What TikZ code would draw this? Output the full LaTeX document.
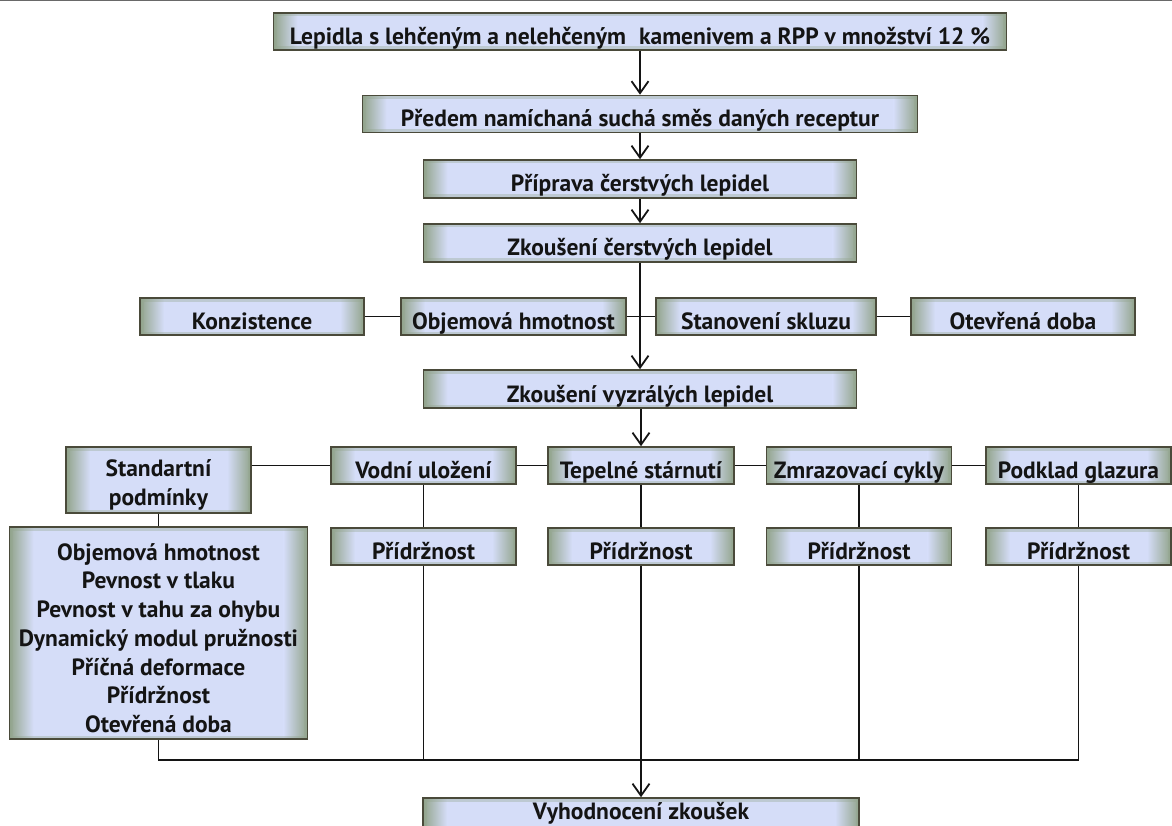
\documentclass[tikz,border=0pt]{standalone}
\usepackage{fontspec}
\setmainfont{PT Sans}
\usetikzlibrary{arrows.meta}
\definecolor{boxblue}{RGB}{213,221,248}
\definecolor{edgegreen}{RGB}{146,164,140}
\definecolor{boxline}{RGB}{74,74,58}
\definecolor{ink}{RGB}{20,20,20}
\definecolor{rule}{RGB}{105,105,105}
\tikzset{
  fbox/.style={draw=boxline, line width=1.6pt, inner sep=0pt, text=ink,
    font=\bfseries\fontsize{23.5}{28}\selectfont,
    text height=27.5pt, text depth=1.5pt,
    path picture={
      \fill[boxblue] (path picture bounding box.south west) rectangle (path picture bounding box.north east);
      \shade[left color=edgegreen, right color=boxblue]
        (path picture bounding box.south west) rectangle ([xshift=24pt]path picture bounding box.north west);
      \shade[left color=boxblue, right color=edgegreen]
        ([xshift=-24pt]path picture bounding box.south east) rectangle (path picture bounding box.north east);
      \draw[edgegreen, line width=7pt, opacity=0.35]
        (path picture bounding box.south west) rectangle (path picture bounding box.north east);
    }},
  txt/.style={text=ink, font=\bfseries\fontsize{23.5}{28.7}\selectfont, align=center, inner sep=0pt},
  conn/.style={draw=ink, line width=1.8pt},
  arr/.style={conn, -{Straight Barb[length=12pt,width=17pt]}}
}
\begin{document}
\begin{tikzpicture}[x=1pt, y=-1pt]
\useasboundingbox (0,0) rectangle (1172,826);
\clip (0,0) rectangle (1172,826);
\draw[rule, line width=1.5pt] (0,0.6) -- (1172,0.6);

% main chain
\node[fbox, minimum width=733pt, minimum height=37pt] (lep) at (640,31.5) {Lepidla s lehčeným a nelehčeným\hspace{0.3em} kamenivem a RPP v množství 12 \%};
\node[fbox, minimum width=555pt, minimum height=37pt] (pred) at (640,114) {Předem namíchaná suchá směs daných receptur};
\node[fbox, minimum width=433pt, minimum height=38pt] (prip) at (640,179) {Příprava čerstvých lepidel};
\node[fbox, minimum width=433pt, minimum height=38pt] (zcer) at (640,243) {Zkoušení čerstvých lepidel};

% tests of fresh adhesives
\node[fbox, minimum width=224pt, minimum height=37pt] (konz) at (252,316.5) {Konzistence};
\node[fbox, minimum width=225pt, minimum height=37pt] (objem) at (513.5,316.5) {Objemová hmotnost};
\node[fbox, minimum width=220pt, minimum height=37pt] (sklz) at (766,316.5) {Stanovení skluzu};
\node[fbox, minimum width=224pt, minimum height=37pt] (otev) at (1023,316.5) {Otevřená doba};

\node[fbox, minimum width=433pt, minimum height=38pt] (zvyz) at (640,389) {Zkoušení vyzrálých lepidel};

% storage conditions
\node[fbox, minimum width=185pt, minimum height=66pt] (std) at (158.5,480) {};
\node[txt] (stdt) at (158.5,485) {Standartní\\podmínky};
\node[fbox, minimum width=185pt, minimum height=37pt] (vod) at (423.5,465.5) {Vodní uložení};
\node[fbox, minimum width=186pt, minimum height=37pt] (tep) at (641,465.5) {Tepelné stárnutí};
\node[fbox, minimum width=185pt, minimum height=37pt] (zmr) at (859,465.5) {Zmrazovací cykly};
\node[fbox, minimum width=185pt, minimum height=37pt] (pod) at (1078.5,465.5) {Podklad glazura};

% properties tested
\node[fbox, minimum width=298pt, minimum height=212pt] (big) at (158.5,633) {};
\node[txt] (bigt) at (158.5,638) {Objemová hmotnost\\Pevnost v tlaku\\Pevnost v tahu za ohybu\\Dynamický modul pružnosti\\Příčná deformace\\Přídržnost\\Otevřená doba};
\node[fbox, minimum width=185pt, minimum height=37pt] (p1) at (423.5,546.5) {Přídržnost};
\node[fbox, minimum width=186pt, minimum height=37pt] (p2) at (641,546.5) {Přídržnost};
\node[fbox, minimum width=185pt, minimum height=37pt] (p3) at (859,546.5) {Přídržnost};
\node[fbox, minimum width=185pt, minimum height=37pt] (p4) at (1078.5,546.5) {Přídržnost};

% evaluation (box runs past the lower edge)
\node[fbox, minimum width=436pt, minimum height=38pt] (vyh) at (641,817) {};
\node[txt, anchor=base] (vyht) at (641,819) {Vyhodnocení zkoušek};

% connectors
\draw[arr] (lep) -- (pred);
\draw[arr] (pred) -- (prip);
\draw[arr] (prip) -- (zcer);
\draw[arr] (zcer.south) -- (zvyz.north);
\draw[conn] (konz) -- (objem);
\draw[conn] (objem) -- (sklz);
\draw[conn] (sklz) -- (otev);
\draw[arr] (zvyz.south -| tep.north) -- (tep.north);
\draw[conn] (vod.west -| std.east) -- (vod.west);
\draw[conn] (vod) -- (tep);
\draw[conn] (tep) -- (zmr);
\draw[conn] (zmr) -- (pod);
\draw[conn] (std) -- (big);
\draw[conn] (vod) -- (p1);
\draw[conn] (tep) -- (p2);
\draw[conn] (zmr) -- (p3);
\draw[conn] (pod) -- (p4);
\coordinate (bus) at (0,760);
\draw[conn] (big.south) |- (bus -| p4.south) -- (p4.south);
\draw[conn] (p1.south) -- (p1.south |- bus);
\draw[conn] (p3.south) -- (p3.south |- bus);
\draw[arr] (p2.south) -- (vyh.north);
\end{tikzpicture}
\end{document}
